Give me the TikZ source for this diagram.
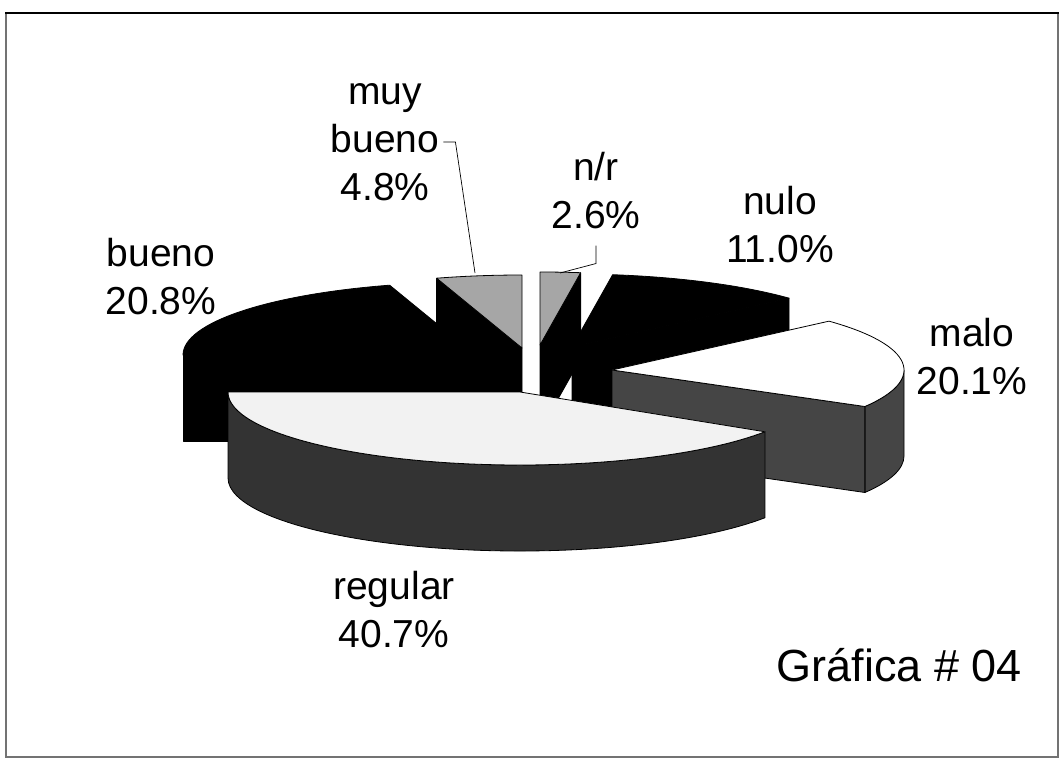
\documentclass[tikz,border=0pt]{standalone}
\usepackage{fontspec}
\setmainfont{Liberation Sans}
\definecolor{triGrey}{gray}{0.65}
\definecolor{sideGrey}{gray}{0.27}
\definecolor{wallGrey}{gray}{0.2}
\definecolor{topGrey}{gray}{0.95}
\begin{document}
\begin{tikzpicture}[x=1pt,y=-1pt,
  lbl/.style={align=center,inner sep=0pt,font=\fontsize{39}{48}\selectfont},
  slice/.style={draw=black,line width=0.8pt,line join=round},
  leader/.style={draw=black,line width=0.7pt}]
\pgfmathsetmacro{\dep}{86}
\useasboundingbox (0,0) rectangle (1064,762);
%frame
\draw[black!55,line width=1.2pt] (6,13) rectangle (1058,757);
\draw[line width=2.5pt] (5,13) -- (1059,13);
%bueno
\filldraw[slice,fill=black] (183,355) -- (183,355+\dep) -- (475,355+\dep) -- (475,355) -- cycle;
\filldraw[slice,fill=black] (475,355) -- ([shift={(180:292 and 73)}]475,355) arc (180:253:292 and 73) -- cycle;
%muy bueno
\filldraw[slice,fill=black] (522,348) -- ++(253:292 and 73) -- ++(0,\dep) -- (522,348+\dep) -- cycle;
\filldraw[slice,fill=triGrey] (522,348) -- ++(253:292 and 73) arc (253:270:292 and 73) -- cycle;
%n/r
\filldraw[slice,fill=black] (540,345) -- ++(278:292 and 73) -- ++(0,\dep) -- (540,345+\dep) -- cycle;
\filldraw[slice,fill=triGrey] (540,345) -- ++(270:292 and 73) arc (270:278:292 and 73) -- cycle;
%nulo
\filldraw[slice,fill=black] (572,347) -- ++(318:292 and 73) -- ++(0,\dep) -- (572,347+\dep) -- cycle;
\filldraw[slice,fill=black] (572,347) -- ++(278:292 and 73) arc (278:318:292 and 73) -- cycle;
%malo
\filldraw[slice,fill=sideGrey] ([shift={(0:292 and 73)}]612,370) arc (0:30:292 and 73) -- ++(0,\dep) arc (30:0:292 and 73) -- cycle;
\filldraw[slice,fill=sideGrey] (612,370) -- ++(30:292 and 73) -- ++(0,\dep) -- (612,370+\dep) -- cycle;
\filldraw[slice,fill=white] (612,370) -- ++(318:292 and 73) arc (318:390:292 and 73) -- cycle;
%regular
\filldraw[slice,fill=wallGrey] ([shift={(180:292 and 73)}]520,392) arc (180:33:292 and 73) -- ++(0,\dep) arc (33:180:292 and 73) -- cycle;
\filldraw[slice,fill=topGrey] (520,392) -- ++(180:292 and 73) arc (180:33:292 and 73) -- cycle;
%labels
\node[lbl] (lblBueno) at (161,277) {bueno\\20.8\%};
\node[lbl] (lblMb) at (385,142) {muy\\bueno\\4.8\%};
\node[lbl] (lblNr) at (596,191) {n/r\\2.6\%};
\node[lbl] (lblNulo) at (780,225) {nulo\\11.0\%};
\node[lbl] (lblMalo) at (972,357) {malo\\20.1\%};
\node[lbl] (lblReg) at (394,610) {regular\\40.7\%};
\node[anchor=base east,inner sep=0pt,font=\fontsize{45}{54}\selectfont] (title) at (1022,681) {Gráfica \# 04};
%leaders
\coordinate (mbTip) at (475,273);
\coordinate (nrTip) at (560,273);
\draw[leader] ([xshift=4pt]lblMb.east) -- ++(12,0) -- (mbTip);
\draw[leader] ([yshift=-16pt]lblNr.south) -- ++(0,18) -- (nrTip);
\end{tikzpicture}
\end{document}
